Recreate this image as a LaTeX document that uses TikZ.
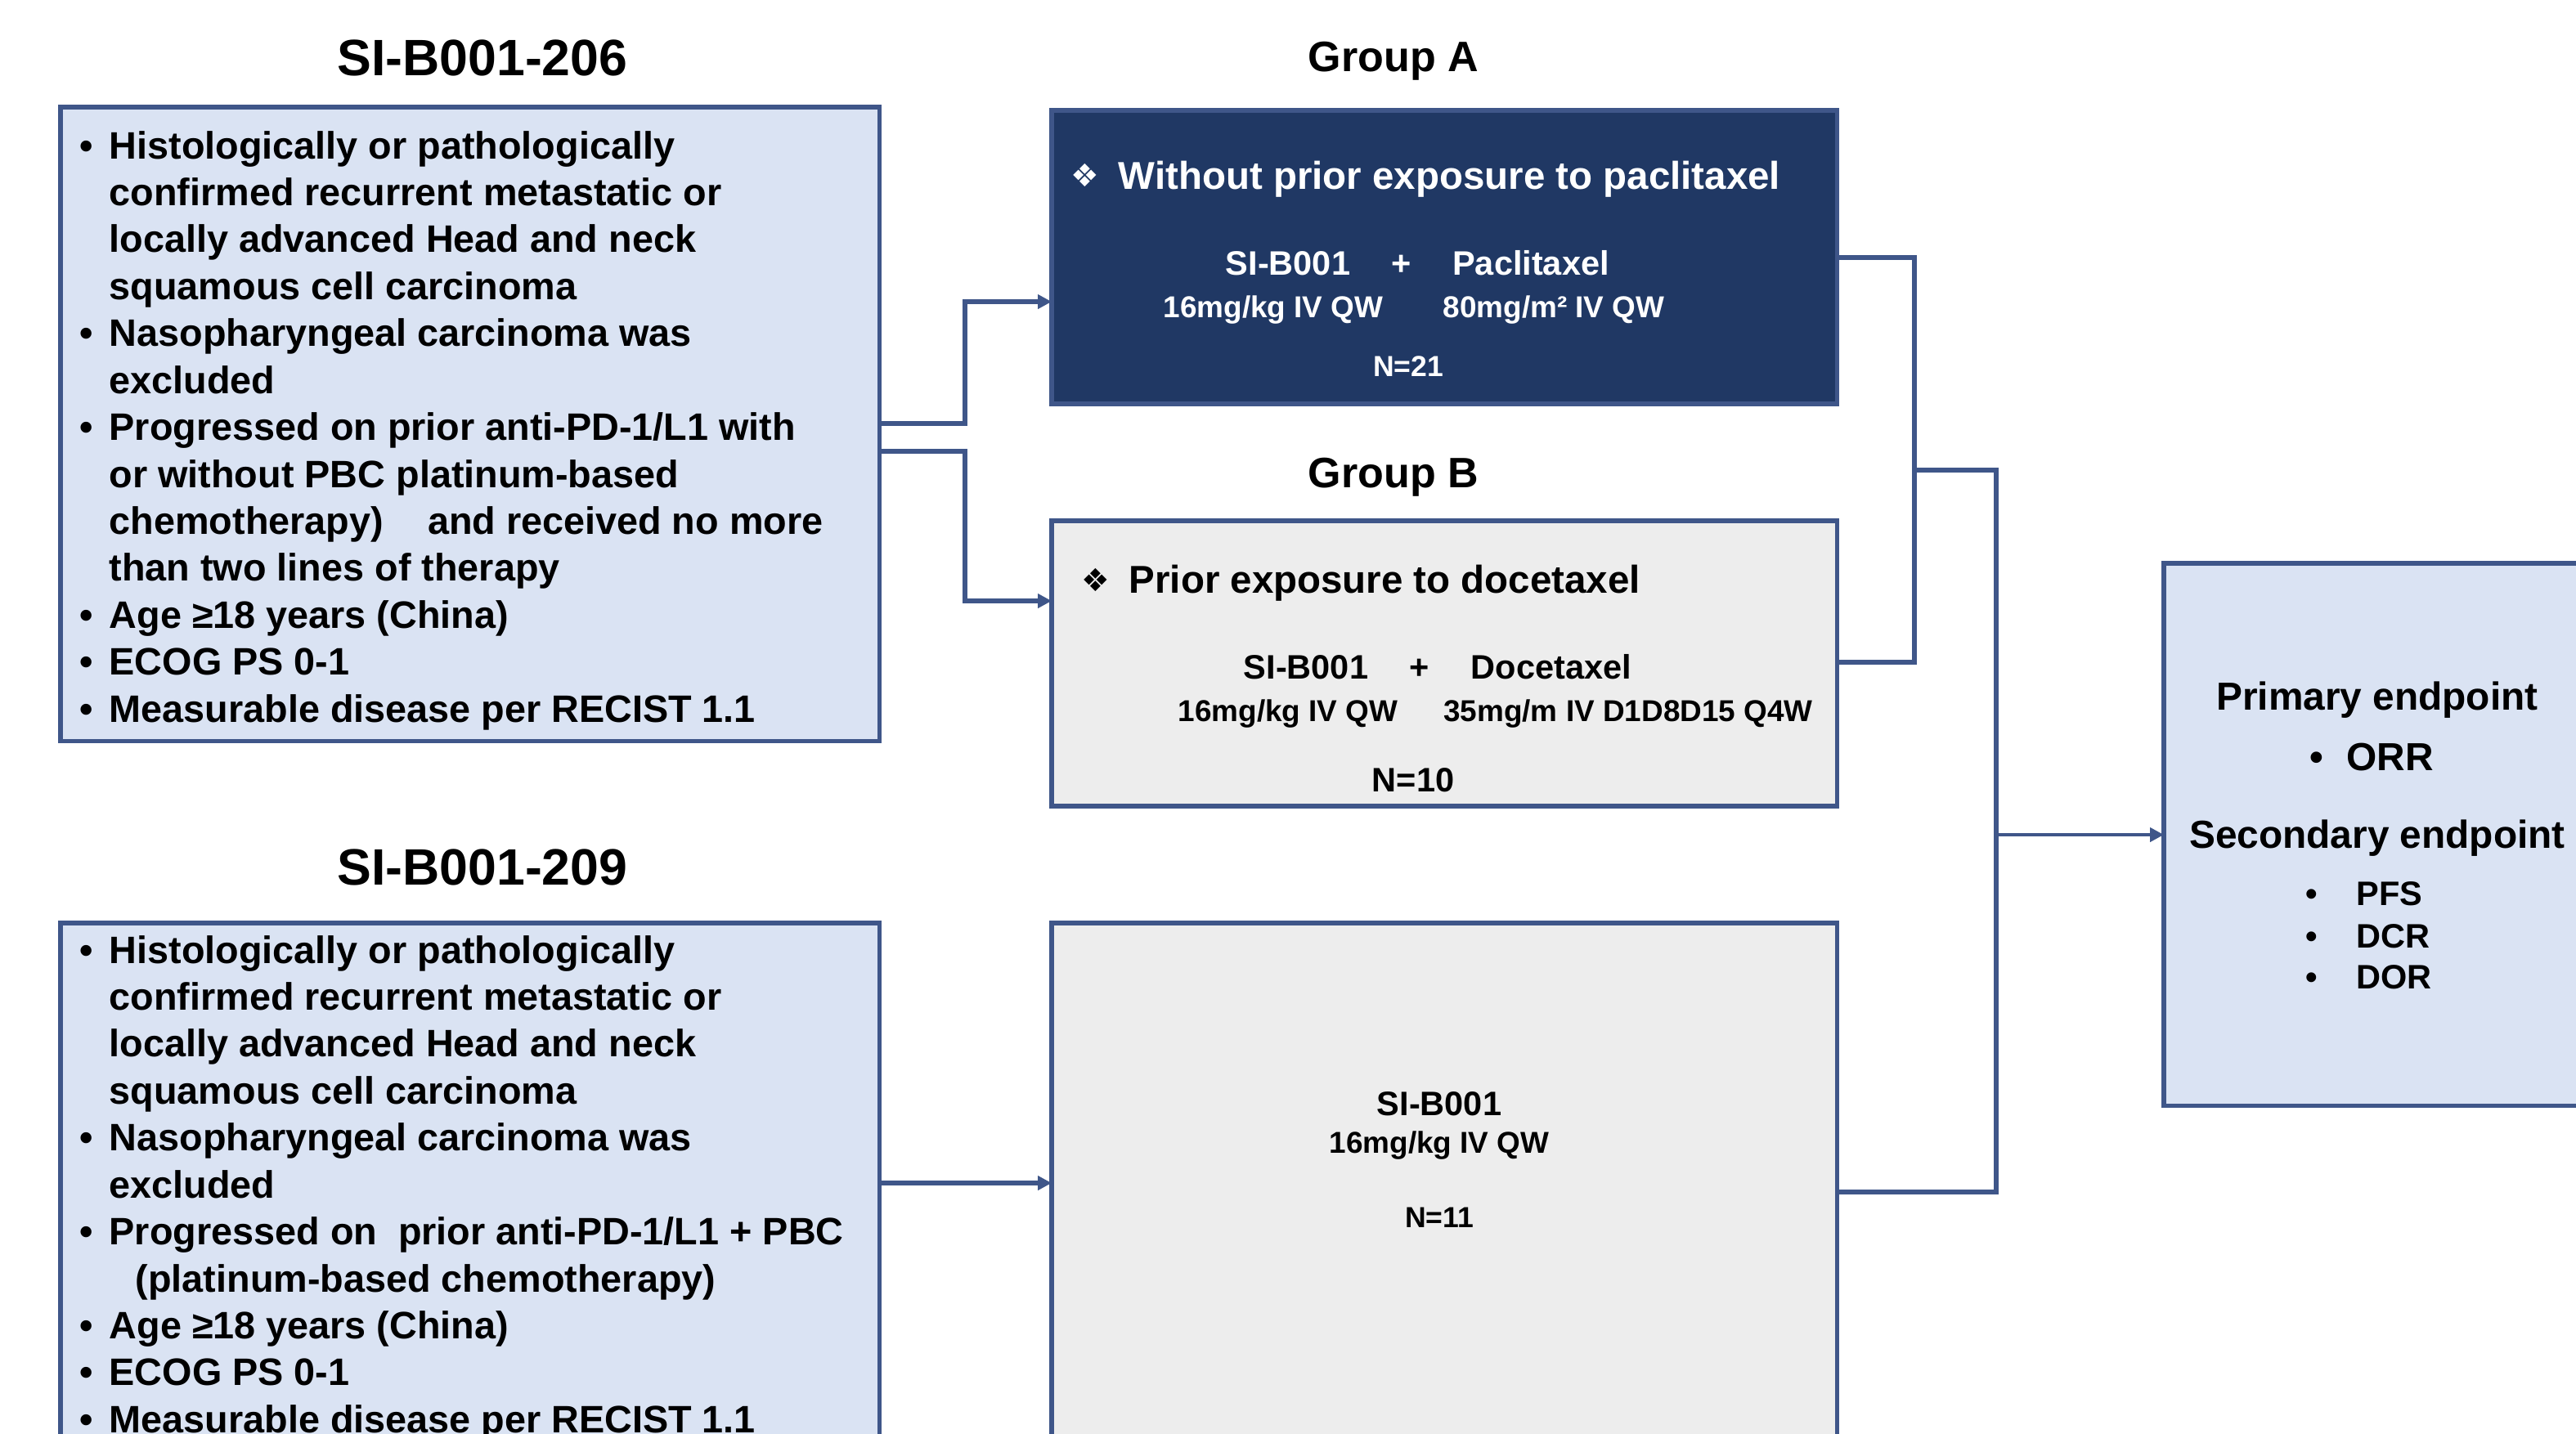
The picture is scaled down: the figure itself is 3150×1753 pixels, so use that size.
\documentclass[tikz,border=0pt]{standalone}
\usepackage{fontspec}
\setmainfont{Liberation Sans}
\newfontfamily\symf{DejaVu Sans}
\usetikzlibrary{arrows.meta}
\definecolor{lnc}{HTML}{3F5689}
\definecolor{navy}{HTML}{203864}
\definecolor{lblue}{HTML}{DAE3F3}
\definecolor{lgray}{HTML}{EDEDED}
\newcommand\bitem[1]{\makebox[0.36cm][l]{•}#1}
\newcommand\cont[1]{\hspace*{0.36cm}#1}
\begin{document}
\begin{tikzpicture}[x=0.01cm,y=-0.01cm,
  box/.style={draw=lnc, line width=1.6pt, anchor=north west, inner sep=0pt, outer sep=0pt},
  conn/.style={draw=lnc, line width=1.6pt},
  arr/.style={-{Triangle[length=0.17cm,width=0.17cm]}},
  txt/.style={inner sep=0pt, anchor=base},
  body/.style={inner sep=0pt, anchor=base west, font={\bfseries\fontsize{13.3pt}{16.33pt}\selectfont}},
  ttl/.style={txt, font={\bfseries\fontsize{17.8pt}{20pt}\selectfont}},
  grp/.style={txt, font={\bfseries\fontsize{14.8pt}{17pt}\selectfont}},
  head/.style={inner sep=0pt, anchor=base west, font={\bfseries\fontsize{13.5pt}{16pt}\selectfont}},
  sym/.style={inner sep=0pt, anchor=center, font={\symf\fontsize{11pt}{13pt}\selectfont}},
  drug/.style={txt, font={\bfseries\fontsize{11.8pt}{14pt}\selectfont}},
  dose/.style={txt, font={\bfseries\fontsize{10.5pt}{13pt}\selectfont}},
  num/.style={txt, font={\bfseries\fontsize{10.1pt}{12pt}\selectfont}},
  ep/.style={txt, font={\bfseries\fontsize{13.6pt}{16pt}\selectfont}},
  eps/.style={txt, font={\bfseries\fontsize{11.8pt}{14pt}\selectfont}}
]
\useasboundingbox (0,0) rectangle (3150,1753);

% boxes
\node[box, fill=lblue, minimum width=10.01cm, minimum height=7.75cm] (L1) at (74,131) {};
\node[box, fill=lblue, minimum width=10.01cm, minimum height=7cm] (L2) at (74,1129) {};
\node[box, fill=navy, minimum width=9.6cm, minimum height=3.59cm] (A) at (1286,135) {};
\node[box, fill=lgray, minimum width=9.6cm, minimum height=3.49cm] (B) at (1286,637) {};
\node[box, fill=lgray, minimum width=9.6cm, minimum height=7cm] (C) at (1286,1129) {};
\node[box, fill=lblue, minimum width=6cm, minimum height=6.63cm] (E) at (2646,689) {};

% titles
\node[ttl] (t206) at (590,92) {SI-B001-206};
\node[ttl] (t209) at (590,1082) {SI-B001-209};
\node[grp] (gA) at (1704,87) {Group A};
\node[grp] (gB) at (1704,596) {Group B};

% left box texts
\node[body] (L1t) at (97,194) {\parbox[t]{10cm}{%
\bitem{Histologically or pathologically}\\
\cont{confirmed recurrent metastatic or}\\
\cont{locally advanced Head and neck}\\
\cont{squamous cell carcinoma}\\
\bitem{Nasopharyngeal carcinoma was}\\
\cont{excluded}\\
\bitem{Progressed on prior anti-PD-1/L1 with}\\
\cont{or without PBC platinum-based}\\
\cont{chemotherapy)\hspace{0.54cm}and received no more}\\
\cont{than two lines of therapy}\\
\bitem{Age ≥18 years (China)}\\
\bitem{ECOG PS 0-1}\\
\bitem{Measurable disease per RECIST 1.1}}};

\node[body] (L2t) at (97,1178) {\parbox[t]{10cm}{%
\bitem{Histologically or pathologically}\\
\cont{confirmed recurrent metastatic or}\\
\cont{locally advanced Head and neck}\\
\cont{squamous cell carcinoma}\\
\bitem{Nasopharyngeal carcinoma was}\\
\cont{excluded}\\
\bitem{Progressed on\ \ prior anti-PD-1/L1 + PBC}\\
\hspace*{0.68cm}(platinum-based chemotherapy)\\
\bitem{Age ≥18 years (China)}\\
\bitem{ECOG PS 0-1}\\
\bitem{Measurable disease per RECIST 1.1}}};

% group A
\node[sym, text=white] (Asym) at (1327,214) {❖};
\node[head, text=white] (Ahead) at (1367,231) {Without prior exposure to paclitaxel};
\node[drug, text=white] (Ad1) at (1575,336) {SI-B001};
\node[drug, text=white] (Aplus) at (1714,336) {+};
\node[drug, text=white] (Ad2) at (1872,336) {Paclitaxel};
\node[dose, text=white] (Ado1) at (1557,388) {16mg/kg IV QW};
\node[dose, text=white] (Ado2) at (1900,388) {80mg/m² IV QW};
\node[num, text=white] (An) at (1722,460) {N=21};

% group B
\node[sym] (Bsym) at (1340,709) {❖};
\node[head] (Bhead) at (1380,725) {Prior exposure to docetaxel};
\node[drug] (Bd1) at (1597,830) {SI-B001};
\node[drug] (Bplus) at (1736,830) {+};
\node[drug] (Bd2) at (1897,830) {Docetaxel};
\node[dose] (Bdo1) at (1575,882) {16mg/kg IV QW};
\node[dose] (Bdo2) at (1991,882) {35mg/m IV D1D8D15 Q4W};
\node[drug] (Bn) at (1728,968) {N=10};

% group C
\node[drug] (Cd) at (1760,1364) {SI-B001};
\node[dose] (Cdo) at (1760,1410) {16mg/kg IV QW};
\node[num] (Cn) at (1760,1501) {N=11};

% endpoints
\node[ep] (Ep) at (2907,868) {Primary endpoint};
\node[ep] (Eb1) at (2833,942) {•};
\node[ep, anchor=base west] (Eorr) at (2869,942) {ORR};
\node[ep] (Es) at (2907,1037) {Secondary endpoint};
\node[eps] (Eb2) at (2827,1107) {•};
\node[eps, anchor=base west] (Epfs) at (2881,1107) {PFS};
\node[eps] (Eb3) at (2827,1159) {•};
\node[eps, anchor=base west] (Edcr) at (2881,1159) {DCR};
\node[eps] (Eb4) at (2827,1209) {•};
\node[eps, anchor=base west] (Edor) at (2881,1209) {DOR};

% connectors
\coordinate (a1) at (1180,518); \coordinate (a2) at (1180,369);
\coordinate (b1) at (1180,552); \coordinate (b2) at (1180,735);
\draw[conn, arr] (L1.east |- a1) -- (a1) -- (a2) -- (A.west |- a2);
\draw[conn, arr] (L1.east |- b1) -- (b1) -- (b2) -- (B.west |- b2);
\coordinate (r1) at (2341,315); \coordinate (r2) at (2341,810);
\draw[conn] (A.east |- r1) -- (r1) -- (r2) -- (B.east |- r2);
\coordinate (r3) at (2341,575); \coordinate (r4) at (2441,575); \coordinate (r5) at (2441,1458);
\draw[conn] (r3) -- (r4) -- (r5) -- (C.east |- r5);
\coordinate (r6) at (2441,1021);
\draw[conn, line width=1.2pt, arr] (r6) -- (E.west |- r6);
\coordinate (c1) at (0,1447);
\draw[conn, arr] (L2.east |- c1) -- (C.west |- c1);
\end{tikzpicture}
\end{document}
